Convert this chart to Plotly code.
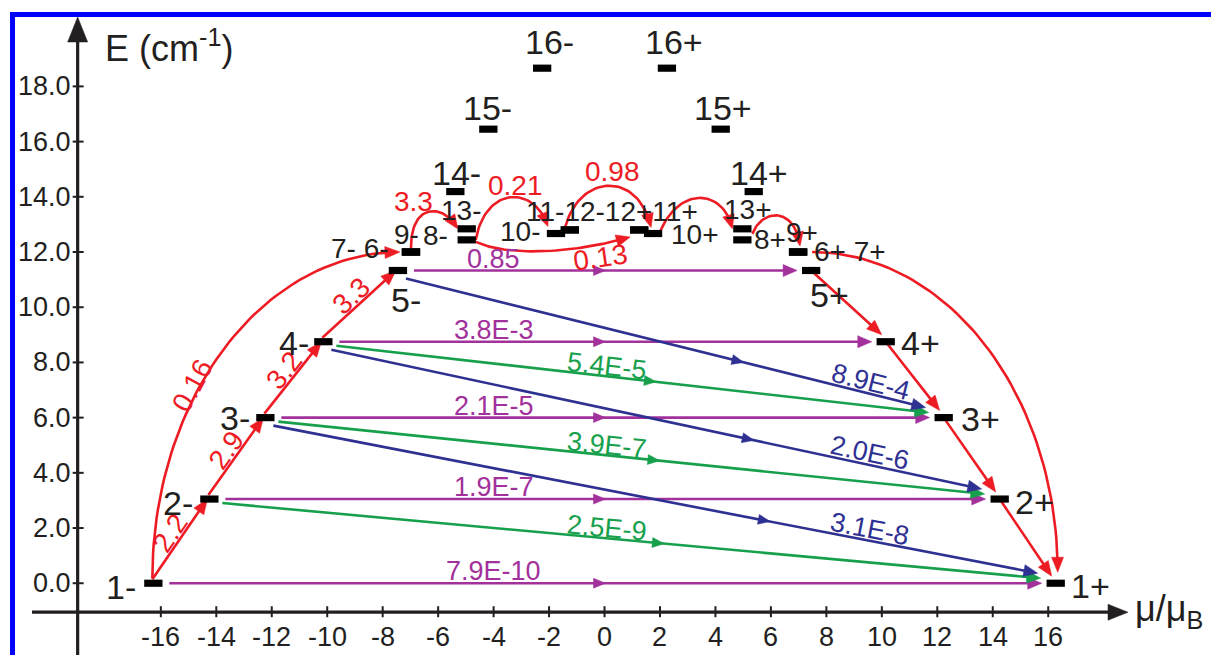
import math
import plotly.graph_objects as go

# ---------------- data ----------------
level_names = ["1-", "2-", "3-", "4-", "5-", "6-", "7-", "9-", "8-", "13-", "14-", "15-", "16-", "10-", "11-", "12-",
               "1+", "2+", "3+", "4+", "5+", "6+", "7+", "9+", "8+", "13+", "14+", "15+", "16+", "10+", "11+", "12+"]
level_mu = [-16.27, -14.25, -12.23, -10.14, -7.45, -6.98, -6.98, -6.98, -4.97, -4.97, -5.38, -4.19, -2.25, -1.75, -1.25, -1.25,
            16.27, 14.25, 12.23, 10.14, 7.45, 6.98, 6.98, 6.98, 4.97, 4.97, 5.38, 4.19, 2.25, 1.75, 1.25, 1.25]
level_E = [0.0, 3.05, 6.0, 8.75, 11.33, 12.0, 12.0, 12.0, 12.44, 12.84, 14.19, 16.45, 18.66, 12.67, 12.8, 12.8,
           0.0, 3.05, 6.0, 8.75, 11.33, 12.0, 12.0, 12.0, 12.44, 12.84, 14.19, 16.45, 18.66, 12.67, 12.8, 12.8]

x_ticks = [-16, -14, -12, -10, -8, -6, -4, -2, 0, 2, 4, 6, 8, 10, 12, 14, 16]
y_ticks = [0, 2, 4, 6, 8, 10, 12, 14, 16, 18]
y_tick_labels = ["0.0", "2.0", "4.0", "6.0", "8.0", "10.0", "12.0", "14.0", "16.0", "18.0"]

# red ladder (thermal) transitions
red_from = ["1-", "2-", "3-", "4-", "5+", "4+", "3+", "2+"]
red_to = ["2-", "3-", "4-", "5-", "4+", "3+", "2+", "1+"]
red_rates = ["2.2", "2.9", "3.2", "3.3", "", "", "", ""]

# purple (tunnelling, same |m|)
purple_from = ["1-", "2-", "3-", "4-", "5-"]
purple_to = ["1+", "2+", "3+", "4+", "5+"]
purple_rates = ["7.9E-10", "1.9E-7", "2.1E-5", "3.8E-3", "0.85"]

# green
green_from = ["2-", "3-", "4-"]
green_to = ["1+", "2+", "3+"]
green_rates = ["2.5E-9", "3.9E-7", "5.4E-5"]

# blue
blue_from = ["3-", "4-", "5-"]
blue_to = ["1+", "2+", "3+"]
blue_rates = ["3.1E-8", "2.0E-6", "8.9E-4"]

# curved red transitions
arc_from = ["9-", "8-", "11-", "10+", "8+", "8-"]
arc_to = ["13-", "10-", "10+", "13+", "9+", "11+"]
arc_rates = ["3.3", "0.21", "0.98", "", "", "0.13"]
big_arc_from = ["1-", "6+"]
big_arc_to = ["6-", "1+"]
big_arc_rates = ["0.16", ""]

# ---------------- geometry / styles ----------------
W, H = 1211, 655
XR = [-21.80, 21.87]
YR = [-2.60, 21.13]
SX = W / (XR[1] - XR[0])
SY = H / (YR[1] - YR[0])

RED = "#ed1c24"
PURPLE = "#a2319b"
GREEN = "#17a04c"
BLUE = "#2e3192"
BLACK = "#231f20"
FONT = "Liberation Sans, Arial, sans-serif"


def px(mu, e):
    return ((mu - XR[0]) * SX, (YR[1] - e) * SY)


def dt(x, y):
    return (XR[0] + x / SX, YR[1] - y / SY)


LV = {n: (m, e) for n, m, e in zip(level_names, level_mu, level_E)}


def lp(name):
    return px(*LV[name])


fig = go.Figure()
annotations = []
shapes = []


def head(tip, back, color, length, width):
    dx, dy = tip[0] - back[0], tip[1] - back[1]
    L = math.hypot(dx, dy)
    ux, uy = dx / L, dy / L
    bx, by = tip[0] - ux * length, tip[1] - uy * length
    nx, ny = -uy, ux
    poly = [tip, (bx + nx * width / 2, by + ny * width / 2), (bx - nx * width / 2, by - ny * width / 2), tip]
    xs, ys = zip(*[dt(*p) for p in poly])
    fig.add_trace(go.Scatter(x=list(xs), y=list(ys), mode="lines", fill="toself", fillcolor=color,
                             line=dict(color=color, width=0.5), hoverinfo="skip", showlegend=False,
                             cliponaxis=False))
    return (tip[0] - ux * (length - 2), tip[1] - uy * (length - 2))


def add_path(pts, color, width=2.6, mid_idx=None, end_arrow=True, alen=15, awid=12):
    pts = list(pts)
    if end_arrow:
        # direction from a point ~8 px back along the path
        j = len(pts) - 2
        while j > 0 and math.hypot(pts[-1][0] - pts[j][0], pts[-1][1] - pts[j][1]) < 8:
            j -= 1
        base = head(pts[-1], pts[j], color, alen, awid)
        line_pts = pts[:-1] + [base]
    else:
        line_pts = pts
    xs, ys = zip(*[dt(*p) for p in line_pts])
    fig.add_trace(go.Scatter(x=list(xs), y=list(ys), mode="lines",
                             line=dict(color=color, width=width),
                             hoverinfo="skip", showlegend=False, cliponaxis=False))
    if mid_idx is not None:
        head(pts[mid_idx], pts[0], color, alen - 2, awid - 2)


def text(x, y, s, size, color=BLACK, angle=0, xanchor="center"):
    mu, e = dt(x, y)
    annotations.append(dict(x=mu, y=e, xref="x", yref="y", text=s, showarrow=False,
                            font=dict(family=FONT, size=size, color=color), textangle=angle,
                            xanchor=xanchor, yanchor="middle"))


def straight(a, b, color, off0, off1, mid=None, alen=15, awid=12):
    x0, y0 = lp(a)
    x1, y1 = lp(b)
    p0 = (x0 + off0[0], y0 + off0[1])
    p1 = (x1 + off1[0], y1 + off1[1])
    pts = [p0]
    mid_idx = None
    if mid is not None:
        pts.append((p0[0] + mid * (p1[0] - p0[0]), p0[1] + mid * (p1[1] - p0[1])))
        mid_idx = 1
    pts.append(p1)
    add_path(pts, color, mid_idx=mid_idx, alen=alen, awid=awid)
    return p0, p1


def line_label(p0, p1, s, color, at_mu=None, frac=0.5, normal_off=11, size=27, rotate=True):
    if at_mu is not None:
        xp = px(at_mu, 0)[0]
        t = (xp - p0[0]) / (p1[0] - p0[0])
    else:
        t = frac
    x = p0[0] + t * (p1[0] - p0[0])
    y = p0[1] + t * (p1[1] - p0[1])
    dx, dy = p1[0] - p0[0], p1[1] - p0[1]
    L = math.hypot(dx, dy)
    nx, ny = dy / L, -dx / L
    if ny > 0:
        nx, ny = -nx, -ny
    ang = math.degrees(math.atan2(dy, dx)) if rotate else 0
    text(x + nx * normal_off, y + ny * normal_off, s, size, color, ang)


# ---------------- axes ----------------
ax_y = px(0, -1.05)[1]
ax_x = px(-19.0, 0)[0]
add_path([(32, ax_y), (1128, ax_y)], BLACK, width=3.2, alen=20, awid=16)
add_path([(ax_x, H + 5), (ax_x, 17)], BLACK, width=3.2, alen=25, awid=20)

for v in x_ticks:
    x0 = px(v, 0)[0]
    a0 = dt(x0, ax_y - 6)
    a1 = dt(x0, ax_y + 5)
    shapes.append(dict(type="line", xref="x", yref="y", x0=a0[0], x1=a1[0], y0=a0[1], y1=a1[1],
                       line=dict(color=BLACK, width=2)))
    text(x0, ax_y + 25, str(v), 27)

for v, lab in zip(y_ticks, y_tick_labels):
    y0 = px(0, v)[1]
    a0 = dt(ax_x - 5, y0)
    a1 = dt(ax_x + 6, y0)
    shapes.append(dict(type="line", xref="x", yref="y", x0=a0[0], x1=a1[0], y0=a0[1], y1=a1[1],
                       line=dict(color=BLACK, width=2)))
    text(ax_x - 5, y0, lab, 27, xanchor="right")

text(103, 46, "E (cm<sup>-1</sup>)", 36, xanchor="left")
text(1133, 611, "μ/μ<sub>B</sub>", 36, xanchor="left")

# ---------------- transitions ----------------
for a, b, r in zip(purple_from, purple_to, purple_rates):
    p0, p1 = straight(a, b, PURPLE, (16, 0), (-14, 0), mid=0.5, alen=14, awid=12)
    line_label(p0, p1, r, PURPLE, at_mu=-4.0, normal_off=12, size=27, rotate=False)

for a, b, r in zip(green_from, green_to, green_rates):
    p0, p1 = straight(a, b, GREEN, (13, 4), (-15, -5), mid=0.54, alen=14, awid=12)
    line_label(p0, p1, r, GREEN, at_mu=0.05, normal_off=10, size=27)

for a, b, r in zip(blue_from, blue_to, blue_rates):
    p0, p1 = straight(a, b, BLUE, (8, 8), (-18, -10), mid=0.65, alen=14, awid=12)
    line_label(p0, p1, r, BLUE, at_mu=9.5, normal_off=12, size=27)

for a, b, r in zip(red_from, red_to, red_rates):
    if b.endswith("-"):
        p0, p1 = straight(a, b, RED, (-1, -4), (-2, 0))
    else:
        p0, p1 = straight(a, b, RED, (0, 0), (-4, -7))
    if r:
        line_label(p0, p1, r, RED, frac=0.5, normal_off=11, size=28)


def cubic(p0, c1, c2, p3, n=40):
    out = []
    for i in range(n + 1):
        t = i / n
        u = 1 - t
        out.append((u ** 3 * p0[0] + 3 * u * u * t * c1[0] + 3 * u * t * t * c2[0] + t ** 3 * p3[0],
                    u ** 3 * p0[1] + 3 * u * u * t * c1[1] + 3 * u * t * t * c2[1] + t ** 3 * p3[1]))
    return out


# small arcs: start offset, end offset, control offsets (px), label offset from curve middle
arc_style = [
    ((0, -4), (-9, 0), (0, -48), (-12, -24), (-16, -10)),
    ((9, 0), (-8, -7), (10, -55), (-13, -41), (5, -12)),
    ((-5, -2), (-2, -6), (15, -56), (-12, -56), (3, -14)),
    ((7, -2), (-10, 0), (20, -47), (-8, -39), None),
    ((10, -6), (2, -6), (10, -26), (-5, -39), None),
    ((9, 2), (-9, 7), (35, 16), (-50, 15), (53, 6)),
]
for a, b, r, st in zip(arc_from, arc_to, arc_rates, arc_style):
    s0, s1, c1o, c2o, lo = st
    xa, ya = lp(a)
    xb, yb = lp(b)
    p0 = (xa + s0[0], ya + s0[1])
    p3 = (xb + s1[0], yb + s1[1])
    c1 = (p0[0] + c1o[0], p0[1] + c1o[1])
    c2 = (p3[0] + c2o[0], p3[1] + c2o[1])
    pts = cubic(p0, c1, c2, p3)
    add_path(pts, RED, alen=14, awid=12)
    if r:
        m = pts[len(pts) // 2]
        ang = -8 if r == "0.13" else 0
        text(m[0] + lo[0], m[1] + lo[1], r, 28, RED, ang)

# big quarter-ellipse arcs
big_style = [((-1, -5), (-11, 0)), ((14, 0), (2, -11))]
for a, b, r, st in zip(big_arc_from, big_arc_to, big_arc_rates, big_style):
    xa, ya = lp(a)
    xb, yb = lp(b)
    p0 = (xa + st[0][0], ya + st[0][1])
    p1 = (xb + st[1][0], yb + st[1][1])
    n = 60
    pts = []
    if a.endswith("-"):
        cx, cy = p1[0], p0[1]
        ra, rb = p1[0] - p0[0], p0[1] - p1[1]
        for i in range(n + 1):
            th = (math.pi / 2) * i / n
            pts.append((cx - ra * math.cos(th), cy - rb * math.sin(th)))
    else:
        cx, cy = p0[0], p1[1]
        ra, rb = p1[0] - p0[0], p1[1] - p0[1]
        for i in range(n + 1):
            th = (math.pi / 2) * i / n
            pts.append((cx + ra * math.sin(th), cy - rb * math.cos(th)))
    add_path(pts, RED)
    if r:
        th = 0.62
        x = cx - ra * math.cos(th)
        y = cy - rb * math.sin(th)
        nx, ny = -math.cos(th) / ra, -math.sin(th) / rb
        nl = math.hypot(nx, ny)
        ang = math.degrees(math.atan2(-rb * math.cos(th), ra * math.sin(th)))
        text(x + nx / nl * 7, y + ny / nl * 7, r, 28, RED, ang)

# ---------------- energy levels (bars) ----------------
for n in level_names:
    m, e = LV[n]
    shapes.append(dict(type="rect", xref="x", yref="y", x0=m - 0.33, x1=m + 0.33, y0=e - 0.13, y1=e + 0.13,
                       fillcolor="black", line=dict(width=0), layer="above"))

# ---------------- level labels ----------------
label_items = [
    ("1-", "1-", (-32, 4), 34), ("2-", "2-", (-31, 4), 34), ("3-", "3-", (-30, 0), 34),
    ("4-", "4-", (-29, 1), 34), ("5-", "5-", (8, 29), 34), ("14-", "14-", (1, -19), 34),
    ("15-", "15-", (-1, -21), 34), ("16-", "16-", (7, -26), 34),
    ("16+", "16+", (7, -26), 34), ("15+", "15+", (2, -21), 34), ("14+", "14+", (5, -19), 34),
    ("5+", "5+", (18, 24), 34), ("4+", "4+", (35, 1), 34), ("3+", "3+", (37, 1), 34),
    ("2+", "2+", (35, 3), 34), ("1+", "1+", (35, 3), 34),
    ("6-", "7- 6-", (-51, -4), 28), ("9-", "9-", (-4, -18), 28), ("8-", "8-", (-31, -4), 28),
    ("13-", "13-", (-6, -18), 28), ("10-", "10-", (-36, -2), 28),
    ("10+", "10+", (42, 1), 28), ("13+", "13+", (6, -19), 28), ("8+", "8+", (28, 0), 28),
    ("9+", "9+", (4, -20), 28), ("6+", "6+ 7+", (52, -1), 28),
]
for lev, s, off, size in label_items:
    x, y = lp(lev)
    text(x + off[0], y + off[1], s, size)
xm = (lp("11-")[0] + lp("11+")[0]) / 2
text(xm + 7, lp("11-")[1] - 18, "11-12-12+11+", 28)

# ---------------- frame ----------------
shapes.append(dict(type="line", xref="paper", yref="paper", x0=12.5 / W, x1=12.5 / W, y0=0, y1=1 - 12 / H,
                   line=dict(color="#0000ff", width=5)))
shapes.append(dict(type="line", xref="paper", yref="paper", x0=10 / W, x1=1, y0=1 - 14.5 / H, y1=1 - 14.5 / H,
                   line=dict(color="#0000ff", width=5)))

fig.update_layout(
    width=W, height=H, margin=dict(l=0, r=0, t=0, b=0),
    paper_bgcolor="white", plot_bgcolor="white",
    xaxis=dict(range=XR, visible=False, fixedrange=True),
    yaxis=dict(range=YR, visible=False, fixedrange=True),
    shapes=shapes, annotations=annotations, showlegend=False,
)

fig.write_html("out.html", config={"displayModeBar": False},
               post_script="document.body.style.margin='0px';document.body.style.overflow='hidden';")
